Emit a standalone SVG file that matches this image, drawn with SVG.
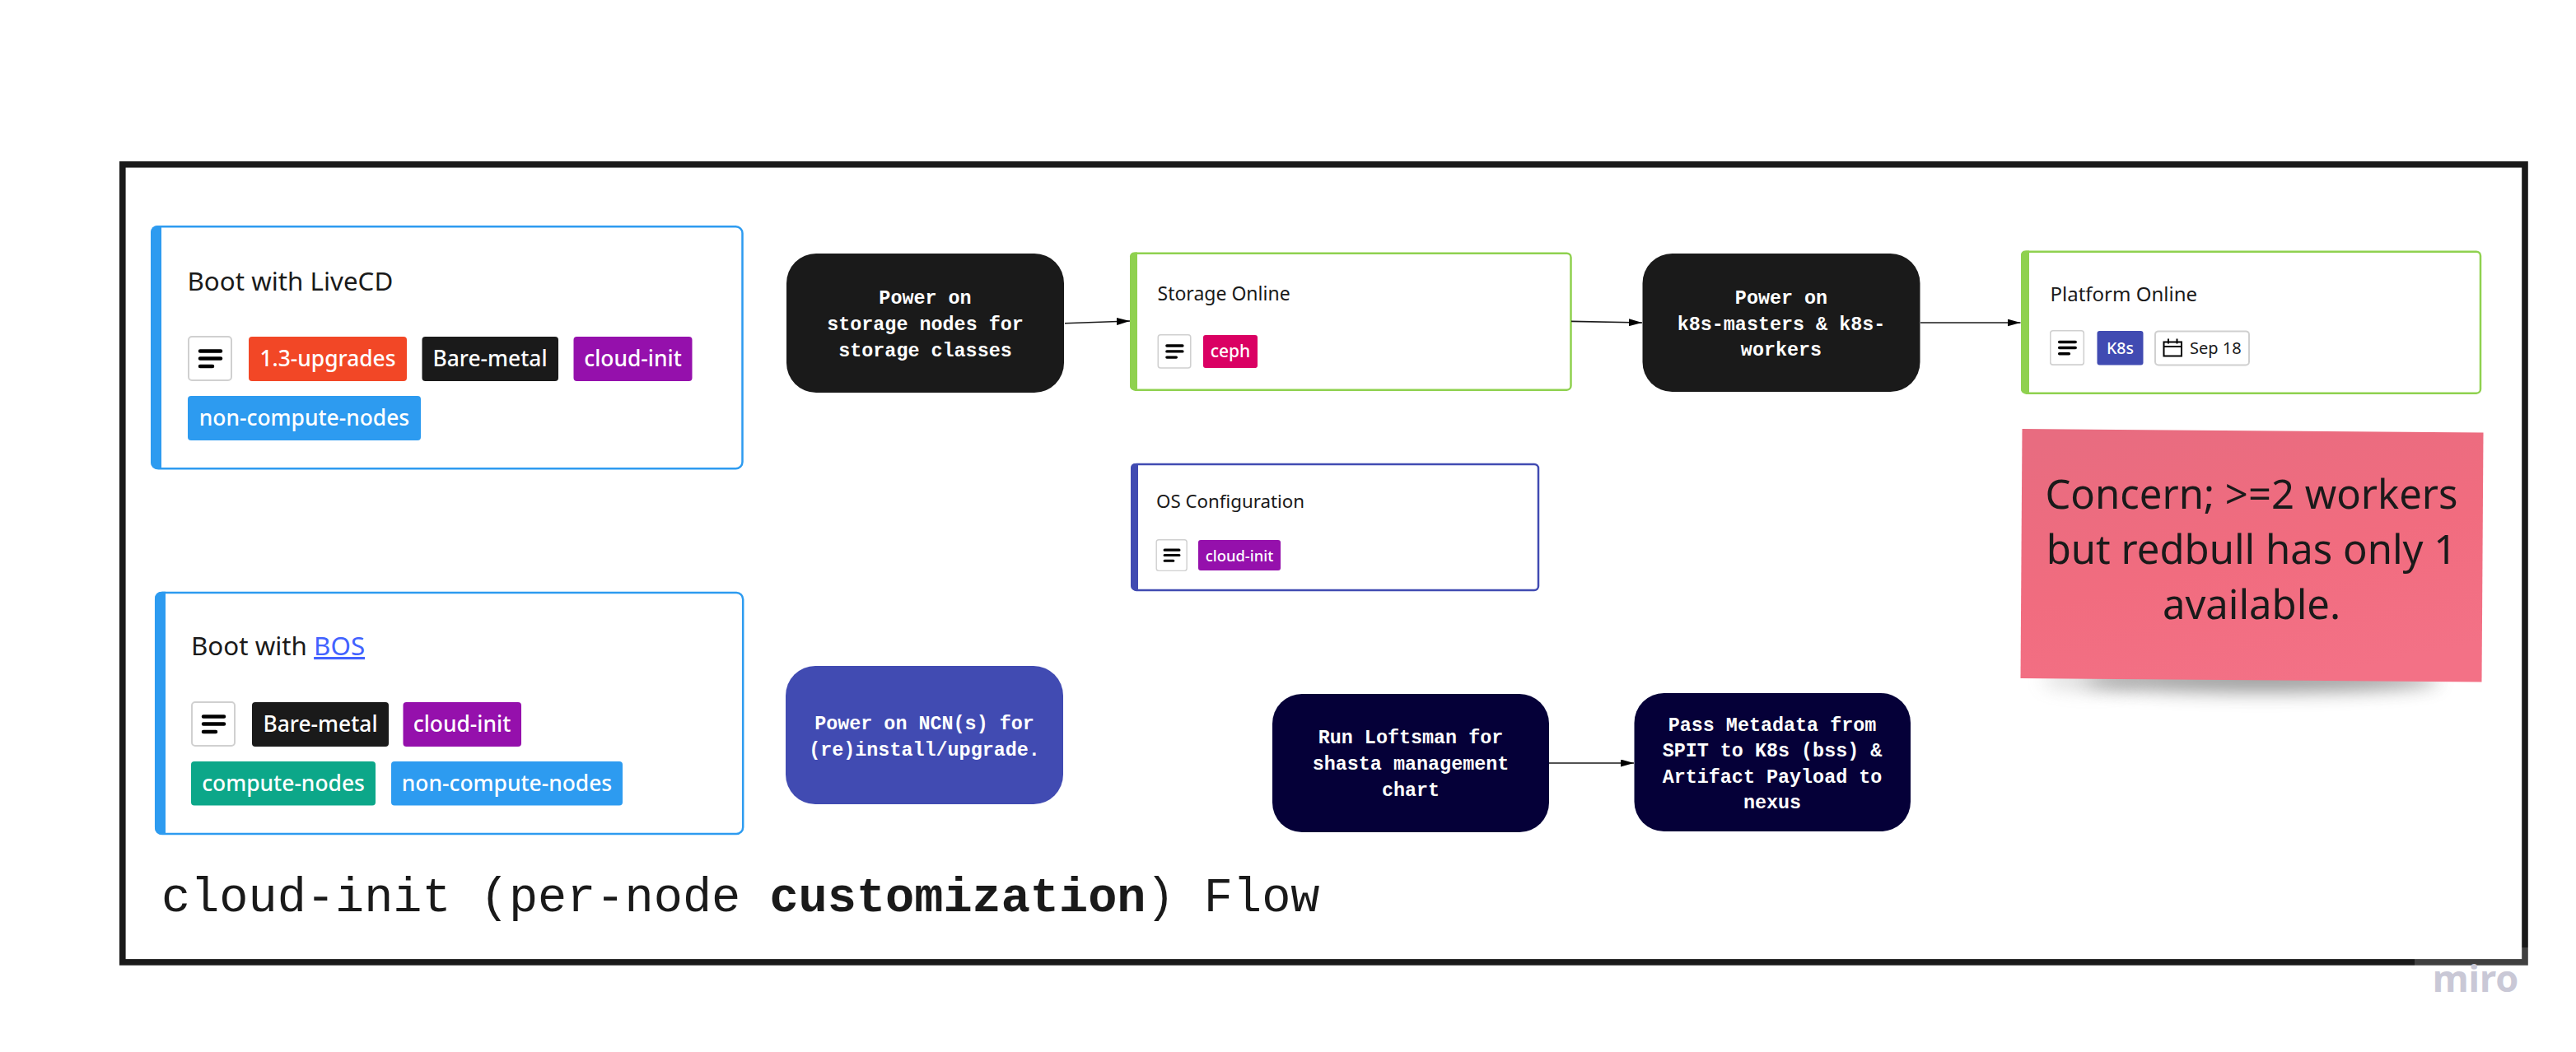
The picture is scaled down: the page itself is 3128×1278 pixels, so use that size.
<svg xmlns="http://www.w3.org/2000/svg" width="3128" height="1278" viewBox="0 0 3128 1278">
<style>
text{font-family:"Noto Sans","Open Sans","Liberation Sans",sans-serif}
.mono{font-family:"Liberation Mono","DejaVu Sans Mono",monospace;font-size:23.4px;font-weight:700;fill:#fff;text-anchor:middle}
.title{font-family:"Liberation Mono","DejaVu Sans Mono",monospace;font-size:58.6px;fill:#1a1a1a}
.h1{font-size:31.3px;fill:#1a1a1a}
.h2{font-size:23px;fill:#1a1a1a}
.tag{font-size:26.4px;font-weight:500;fill:#fff;text-anchor:middle}
.tag2{font-size:21px;font-weight:500;fill:#fff;text-anchor:middle}
.card{fill:#fff;stroke-width:2.5}
.conn{fill:none;stroke:#1a1a1a;stroke-width:1.6;marker-end:url(#arrow)}
</style>
<defs>
<marker id="arrow" markerUnits="userSpaceOnUse" markerWidth="16" markerHeight="9" refX="16" refY="4.5" orient="auto"><path d="M0 0L16 4.5L0 9z" fill="#000"/></marker>
<g id="menu"><rect x="1" y="1" width="52" height="53" rx="4" fill="#fff" stroke="#d0d0d0" stroke-width="2"/><path d="M15 18.5H40M15 27.5H40M15 37H30" fill="none" stroke="#000" stroke-width="4.5" stroke-linecap="round"/></g>
<linearGradient id="sticky" x1="0.2" y1="0" x2="0.6" y2="1"><stop offset="0" stop-color="#e86c80"/><stop offset="0.55" stop-color="#f16c7f"/><stop offset="1" stop-color="#f37186"/></linearGradient>
<filter id="blur" x="-20%" y="-100%" width="140%" height="300%"><feGaussianBlur stdDeviation="11"/></filter>
</defs>
<rect width="3128" height="1278" fill="#fff"/>
<rect id="frame" x="148.800" y="199.800" width="2917.200" height="969.100" fill="#fff" stroke="#1a1a1a" stroke-width="7.600"/>

<g id="card-livecd">
<rect class="card" x="184.500" y="275.200" width="717" height="294" rx="8" stroke="#2d9bf0"/>
<path d="M196 274H191a8 8 0 0 0-8 8V562a8 8 0 0 0 8 8h5z" fill="#2d9bf0"/>
<text class="h1" x="227.500" y="352.500">Boot with LiveCD</text>
<use href="#menu" x="228" y="408"/>
<rect x="302" y="409" width="192" height="54" rx="4" fill="#f24726"/><text class="tag" x="398" y="445">1.3-upgrades</text>
<rect x="512.500" y="409" width="165.500" height="54" rx="4" fill="#1a1a1a"/><text class="tag" x="595" y="445">Bare-metal</text>
<rect x="696.500" y="409" width="144" height="54" rx="4" fill="#9510ac"/><text class="tag" x="768.500" y="445">cloud-init</text>
<rect x="228" y="481" width="283" height="54" rx="4" fill="#2d9bf0"/><text class="tag" x="369.500" y="517">non-compute-nodes</text>
</g>

<g id="card-bos">
<rect class="card" x="189.200" y="720" width="713" height="293" rx="8" stroke="#2d9bf0"/>
<path d="M201 718.700H196a8 8 0 0 0-8 8V1006a8 8 0 0 0 8 8h5z" fill="#2d9bf0"/>
<text class="h1" x="232" y="796">Boot with <tspan fill="#4262ff" text-decoration="underline">BOS</tspan></text>
<use href="#menu" x="232" y="852"/>
<rect x="306" y="853" width="166" height="54" rx="4" fill="#1a1a1a"/><text class="tag" x="389" y="889">Bare-metal</text>
<rect x="489.500" y="853" width="143.500" height="54" rx="4" fill="#9510ac"/><text class="tag" x="561" y="889">cloud-init</text>
<rect x="232" y="925" width="224" height="53.500" rx="4" fill="#0ca789"/><text class="tag" x="344" y="961">compute-nodes</text>
<rect x="475" y="925" width="281" height="53.500" rx="4" fill="#2d9bf0"/><text class="tag" x="615.500" y="961">non-compute-nodes</text>
</g>

<g id="node-power-storage">
<rect x="955" y="308" width="337" height="169" rx="36" fill="#1a1a1a"/>
<text class="mono" x="1123.500" y="369">Power on</text>
<text class="mono" x="1123.500" y="401">storage nodes for</text>
<text class="mono" x="1123.500" y="433">storage classes</text>
</g>

<g id="card-storage">
<rect class="card" x="1373.500" y="307.700" width="534" height="166" rx="5" stroke="#8fd14f"/>
<path d="M1381 306.500H1377a5 5 0 0 0-5 5V469a5 5 0 0 0 5 5h4z" fill="#8fd14f"/>
<text class="h2" x="1405.500" y="365">Storage Online</text>
<use href="#menu" transform="translate(1405.500 406) scale(.76)"/>
<rect x="1461" y="407" width="66" height="40" rx="3" fill="#da0063"/><text class="tag2" x="1494" y="434">ceph</text>
</g>

<g id="node-power-k8s">
<rect x="1994.500" y="308" width="337" height="168" rx="36" fill="#1a1a1a"/>
<text class="mono" x="2163" y="369">Power on</text>
<text class="mono" x="2163" y="401">k8s-masters &amp; k8s-</text>
<text class="mono" x="2163" y="432">workers</text>
</g>

<g id="card-platform">
<rect class="card" x="2455.500" y="305.700" width="556.500" height="172" rx="5" stroke="#8fd14f"/>
<path d="M2464 304.500H2459a5 5 0 0 0-5 5V473a5 5 0 0 0 5 5h5z" fill="#8fd14f"/>
<text class="h2" x="2489.500" y="366" style="font-size:24px">Platform Online</text>
<use href="#menu" transform="translate(2489 401) scale(.78)"/>
<rect x="2546.500" y="402" width="56" height="41.500" rx="3" fill="#414bb2"/><text class="tag2" x="2574.500" y="430" style="font-size:19.500px">K8s</text>
<rect x="2617" y="402.400" width="114" height="41" rx="4" fill="#fff" stroke="#d0d0d0" stroke-width="2"/>
<path d="M2627.500 415.500h21.500v17h-21.500zM2627.500 421h21.500M2633 411.500v6M2643.500 411.500v6" fill="none" stroke="#000" stroke-width="2"/>
<text x="2659" y="430" font-size="20" fill="#1a1a1a">Sep 18</text>
</g>

<g id="card-os">
<rect class="card" x="1375" y="564" width="493" height="153" rx="5" stroke="#414bb2"/>
<path d="M1382 563H1378a5 5 0 0 0-5 5V712a5 5 0 0 0 5 5h4z" fill="#414bb2"/>
<text class="h2" x="1404" y="617" style="font-size:22.300px">OS Configuration</text>
<use href="#menu" transform="translate(1403.500 655) scale(.71)"/>
<rect x="1455" y="656" width="100" height="37" rx="3" fill="#9510ac"/><text class="tag2" x="1505" y="682" style="font-size:18.400px">cloud-init</text>
</g>

<g id="sticky-note">
<ellipse cx="2746" cy="826" rx="215" ry="15" fill="#666" opacity=".65" filter="url(#blur)"/>
<ellipse cx="2540" cy="826" rx="60" ry="12" fill="#999" opacity=".35" filter="url(#blur)"/>
<path d="M2455.500 521L3015.500 525.500L3013.500 828.500L2453.500 824z" fill="url(#sticky)"/>
<g font-size="49" fill="#1a1a1a" text-anchor="middle">
<text x="2734" y="618">Concern; &gt;=2 workers</text>
<text x="2734" y="685">but redbull has only 1</text>
<text x="2734" y="752">available.</text>
</g>
</g>

<g id="node-power-ncn">
<rect x="954" y="809" width="337" height="168" rx="36" fill="#414bb2"/>
<text class="mono" x="1122.500" y="886">Power on NCN(s) for</text>
<text class="mono" x="1122.500" y="918">(re)install/upgrade.</text>
</g>

<g id="node-loftsman">
<rect x="1545" y="843" width="336" height="168" rx="36" fill="#050038"/>
<text class="mono" x="1713" y="903">Run Loftsman for</text>
<text class="mono" x="1713" y="935">shasta management</text>
<text class="mono" x="1713" y="967">chart</text>
</g>

<g id="node-metadata">
<rect x="1984.500" y="842" width="335.500" height="168" rx="36" fill="#050038"/>
<text class="mono" x="2152" y="888">Pass Metadata from</text>
<text class="mono" x="2152" y="919">SPIT to K8s (bss) &amp;</text>
<text class="mono" x="2152" y="951">Artifact Payload to</text>
<text class="mono" x="2152" y="982">nexus</text>
</g>

<g id="connectors">
<path class="conn" d="M1293 392.700L1372 390"/>
<path class="conn" d="M1908 390.400L1994 392"/>
<path class="conn" d="M2332 392H2453.500"/>
<path class="conn" d="M1881 927H1984"/>
</g>

<text class="title" x="196" y="1107">cloud-init (per-node <tspan font-weight="700">customization</tspan>) Flow</text>
<rect x="2932" y="1151" width="138" height="22" fill="#fff" opacity=".17"/>
<text x="3006" y="1205" font-size="45" font-weight="700" fill="#c9c8d6" text-anchor="middle">miro</text>
</svg>
